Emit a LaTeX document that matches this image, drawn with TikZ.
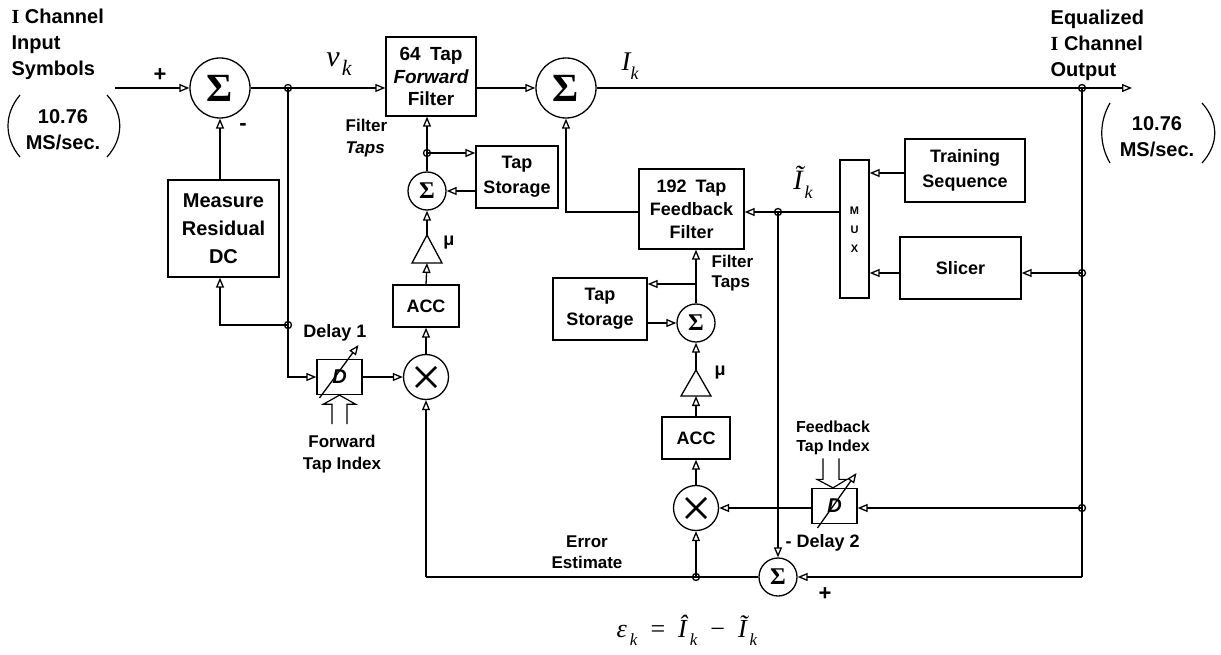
\documentclass[tikz,border=0pt]{standalone}
\usepackage{fontspec}
\setmainfont{Liberation Sans}
\newfontfamily\tms{Liberation Serif}
\usetikzlibrary{arrows.meta,calc}
\newcommand\inlbl{\fontsize{18}{23}\selectfont\bfseries}
\newcommand\outlbl{\fontsize{20}{26}\selectfont\bfseries}
\newcommand\tmi[1]{{\tms\itshape #1}}
\newcommand\tmk[2]{\kern#2pt\raisebox{-0.32em}{\tms\itshape\fontsize{#1}{#1}\selectfont k}}
\begin{document}
\begin{tikzpicture}[x=1pt,y=-1pt,line width=1.3pt,
  arr/.style={-{Triangle[open,length=10pt,width=8pt]}},
  box/.style={draw,rectangle,inner sep=0pt,align=center,font=\inlbl},
  lab/.style={inner sep=0pt,align=center,font=\inlbl},
  olab/.style={inner sep=0pt,font=\outlbl},
  sumB/.style={draw,circle,minimum size=60pt,inner sep=0pt,font={\tms\bfseries\fontsize{40}{40}\selectfont}},
  sumS/.style={draw,circle,minimum size=38pt,inner sep=0pt,font={\tms\bfseries\fontsize{24}{24}\selectfont}},
  mul/.style={draw,circle,minimum size=45pt,inner sep=0pt},
  jd/.style={draw,circle,minimum size=7pt,inner sep=0pt},
  dbox/.style={draw,rectangle,inner sep=0pt,minimum width=45pt,minimum height=35pt,font={\fontsize{20}{20}\selectfont\bfseries\itshape}},
  mathlab/.style={inner sep=0pt}
]
\useasboundingbox (0,0) rectangle (1221,655);

% ---------- blocks ----------
\node[sumB] (sum1) at (220,88) {Σ};
\node[sumB] (sum2) at (566,88) {Σ};
\node[box,minimum width=90pt,minimum height=79pt,font={\fontsize{19}{22.5}\selectfont\bfseries}] (fwd) at (431,76.5) {64\enspace Tap\\{\itshape Forward}\\Filter};
\node[box,minimum width=111pt,minimum height=97pt,font={\fontsize{20}{28}\selectfont\bfseries}] (meas) at (223.5,228.5) {Measure\\Residual\\DC};
\node[box,minimum width=82pt,minimum height=62pt,font={\fontsize{18}{25}\selectfont\bfseries}] (ts1) at (517,177) {Tap\\Storage};
\node[sumS] (sum3) at (427,191) {Σ};
\node[box,minimum width=66pt,minimum height=42pt] (acc1) at (426,306) {ACC};
\node[mul] (mul1) at (426,377) {};
\node[dbox] (d1) at (339.5,377) {D};
\node[box,minimum width=105pt,minimum height=80pt,font={\fontsize{18}{23}\selectfont\bfseries}] (fbf) at (691.5,209) {192\enspace Tap\\Feedback\\Filter};
\node[box,minimum width=94pt,minimum height=62pt,font={\fontsize{18}{25}\selectfont\bfseries}] (ts2) at (600,309) {Tap\\Storage};
\node[sumS] (sum4) at (696,323) {Σ};
\node[box,minimum width=68pt,minimum height=42pt] (acc2) at (696,438) {ACC};
\node[mul] (mul2) at (696,508) {};
\node[dbox] (d2) at (834.5,506) {D};
\node[sumS] (sum5) at (778,577) {Σ};
\node[box,minimum width=29pt,minimum height=138pt,font={\fontsize{11}{21}\selectfont\bfseries}] (mux) at (854.5,229) {\raisebox{-4pt}{\begin{tabular}{@{}c@{}}M\\[-2pt]U\\[-2pt]X\end{tabular}}};
\node[box,minimum width=120pt,minimum height=63pt,font={\fontsize{18}{25}\selectfont\bfseries}] (train) at (965,170.5) {Training\\Sequence};
\node[box,minimum width=121pt,minimum height=62pt] (slicer) at (960.5,268) {Slicer};

% multipliers
\draw[line width=2.6pt] ($(mul1)+(-10,-10)$) -- ($(mul1)+(10,10)$);
\draw[line width=2.6pt] ($(mul1)+(-10,10)$) -- ($(mul1)+(10,-10)$);
\draw[line width=2.6pt] ($(mul2)+(-10,-10)$) -- ($(mul2)+(10,10)$);
\draw[line width=2.6pt] ($(mul2)+(-10,10)$) -- ($(mul2)+(10,-10)$);

% amplifiers (mu)
\coordinate (t1a) at (427,235);
\coordinate (t1b) at (427,263);
\coordinate (t2a) at (696,370);
\coordinate (t2b) at (696,396);
\draw (412,263) -- (442,263) -- (t1a) -- cycle;
\draw (681,396) -- (711,396) -- (t2a) -- cycle;

% ---------- coordinates ----------
\coordinate (in) at (115,88);
\coordinate (out) at (1132,88);
\coordinate (j1) at (288,88);
\coordinate (j2) at (288,325);
\coordinate (j3) at (427,153);
\coordinate (j4) at (778,212);
\coordinate (j5) at (1082,88);
\coordinate (j6) at (1082,273);
\coordinate (j7) at (1082,508);
\coordinate (c1) at (1082,577);
\coordinate (j8) at (696,577);
\coordinate (c2) at (426,577);
\coordinate (j9) at (696,284);
\coordinate (tr) at (905,173);

% ---------- connectors ----------
\draw[arr] (in) -- (sum1.west);
\draw (sum1.east) -- (j1);
\draw[arr] (j1) -- (j1 -| fwd.west);
\draw[arr] (fwd.east |- sum2) -- (sum2.west);
\draw (sum2.east) -- (j5);
\draw[arr] (j5) -- (out);
\draw (j1) -- (j2);
\draw[arr] (j2) |- (d1.west);
\draw[arr] (j2) -| (sum1 |- meas.south);
\draw[arr] (sum1 |- meas.north) -- (sum1.south);
\draw[arr] (d1.east) -- (mul1.west);
\draw[arr] (mul1.north) -- (acc1.south);
\draw[arr] (acc1.north) -- (t1b);
\draw[arr] (t1a) -- (sum3.south);
\draw (sum3.north) -- (j3);
\draw[arr] (j3) -- (j3 |- fwd.south);
\draw[arr] (j3) -- (j3 -| ts1.west);
\draw[arr] (ts1.west |- sum3) -- (sum3.east);
\draw[arr] (fbf.west |- j4) -| (sum2.south);
\draw (mux.west |- j4) -- (j4);
\draw[arr] (j4) -- (j4 -| fbf.east);
\draw[arr] (j4) -- (sum5.north);
\draw[arr] (tr) -- (tr -| mux.east);
\draw[arr] (slicer.west |- j6) -- (j6 -| mux.east);
\draw[arr] (j6) -- (j6 -| slicer.east);
\draw (j5) -- (c1);
\draw[arr] (c1) -- (sum5.east);
\draw[arr] (j7) -- (j7 -| d2.east);
\draw[arr] (d2.west |- j7) -- (mul2.east);
\draw (sum5.west) -- (c2);
\draw[arr] (c2) -- (mul1.south);
\draw[arr] (j8) -- (mul2.south);
\draw[arr] (mul2.north) -- (acc2.south);
\draw[arr] (acc2.north) -- (t2b);
\draw[arr] (t2a) -- (sum4.south);
\draw[arr] (sum4.north) -- (sum4 |- fbf.south);
\draw[arr] (j9) -- (j9 -| ts2.east);
\draw[arr] (ts2.east |- sum4) -- (sum4.west);

% variable delays
\draw[arr] ($(d1.center)+(-20,21)$) -- ($(d1.center)+(19,-32)$);
\draw[arr] ($(d2.center)+(-17,22)$) -- ($(d2.center)+(22,-33)$);
\draw[line width=1.2pt,shift={(d1.south)}] (-7.5,29) -- (-7.5,9) -- (-16,9) -- (0,0) -- (16,9) -- (7.5,9) -- (7.5,29);
\draw[line width=1.2pt,shift={(d2.north)}] (-11.5,-29.5) -- (-11.5,-8.5) -- (-17.5,-8.5) -- (-1.5,0) -- (12.5,-8.5) -- (4.5,-8.5) -- (4.5,-29.5);

% junction dots
\foreach \p in {j1,j2,j3,j4,j5,j6,j7,j8}
  \node[jd] (dot-\p) at (\p) {};

% ---------- parentheses ----------
\draw[line width=1.2pt] (20,95) .. controls (4,114) and (4,138) .. (20,157);
\draw[line width=1.2pt] (107,95) .. controls (124,114) and (124,138) .. (107,157);
\draw[line width=1.2pt] (1110,103) .. controls (1099,122) and (1099,144) .. (1110,163);
\draw[line width=1.2pt] (1202,103) .. controls (1219,122) and (1219,144) .. (1202,163);

% ---------- labels ----------
\node[olab,anchor=west,align=left] (linput) at (11,44) {{\tms\bfseries I} Channel\\Input\\Symbols};
\node[olab,align=center] (lrate1) at (63,130) {10.76\\MS/sec.};
\node[olab,anchor=west,align=left] (loutput) at (1050,45) {Equalized\\{\tms\bfseries I} Channel\\Output};
\node[olab,align=center] (lrate2) at (1157,137) {10.76\\MS/sec.};
\node[lab,font={\fontsize{22}{22}\selectfont\bfseries}] (lplus1) at (160,75) {+};
\node[lab,font={\fontsize{22}{22}\selectfont\bfseries}] (lminus1) at (243,127) {-};
\node[lab,font={\fontsize{22}{22}\selectfont\bfseries}] (lplus2) at (825,594) {+};
\node[lab,anchor=west,align=left,font={\fontsize{17}{22}\selectfont\bfseries}] (lft1) at (345,138) {Filter\\{\itshape Taps}};
\node[lab,anchor=west,align=left,font={\fontsize{17}{20}\selectfont\bfseries}] (lft2) at (711,273) {Filter\\Taps};
\node[lab] (lmu1) at (449,243) {μ};
\node[lab] (lmu2) at (720,373) {μ};
\node[lab] (ldel1) at (335,333) {Delay 1};
\node[lab,font={\fontsize{17}{22}\selectfont\bfseries}] (lfti) at (342,454) {Forward\\Tap Index};
\node[lab,font={\fontsize{17}{21}\selectfont\bfseries}] (lerr) at (587,552) {Error\\Estimate};
\node[lab,font={\fontsize{16}{19}\selectfont\bfseries}] (lfbti) at (833,438) {Feedback\\Tap Index};
\node[lab,anchor=west] (ldel2) at (785,543) {- Delay 2};
\node[mathlab,font={\fontsize{30}{30}\selectfont}] (lvk) at (339,64) {\tmi{v}\tmk{22}{2}};
\node[mathlab,font={\fontsize{27}{27}\selectfont}] (lik) at (630,66) {\tmi{I}\tmk{18}{0}};
\node[mathlab,font={\fontsize{28}{28}\selectfont}] (litk) at (803,182) {\tmi{Ĩ}\tmk{18}{2}};
\node[mathlab,font={\fontsize{26}{26}\selectfont}] (leq) at (687,630) {\tmi{ε}\tmk{17}{3}\enspace{\tms =}\enspace\tmi{Î}\tmk{17}{3}\enspace{\tms −}\enspace\tmi{Ĩ}\tmk{17}{3}};
\end{tikzpicture}
\end{document}
